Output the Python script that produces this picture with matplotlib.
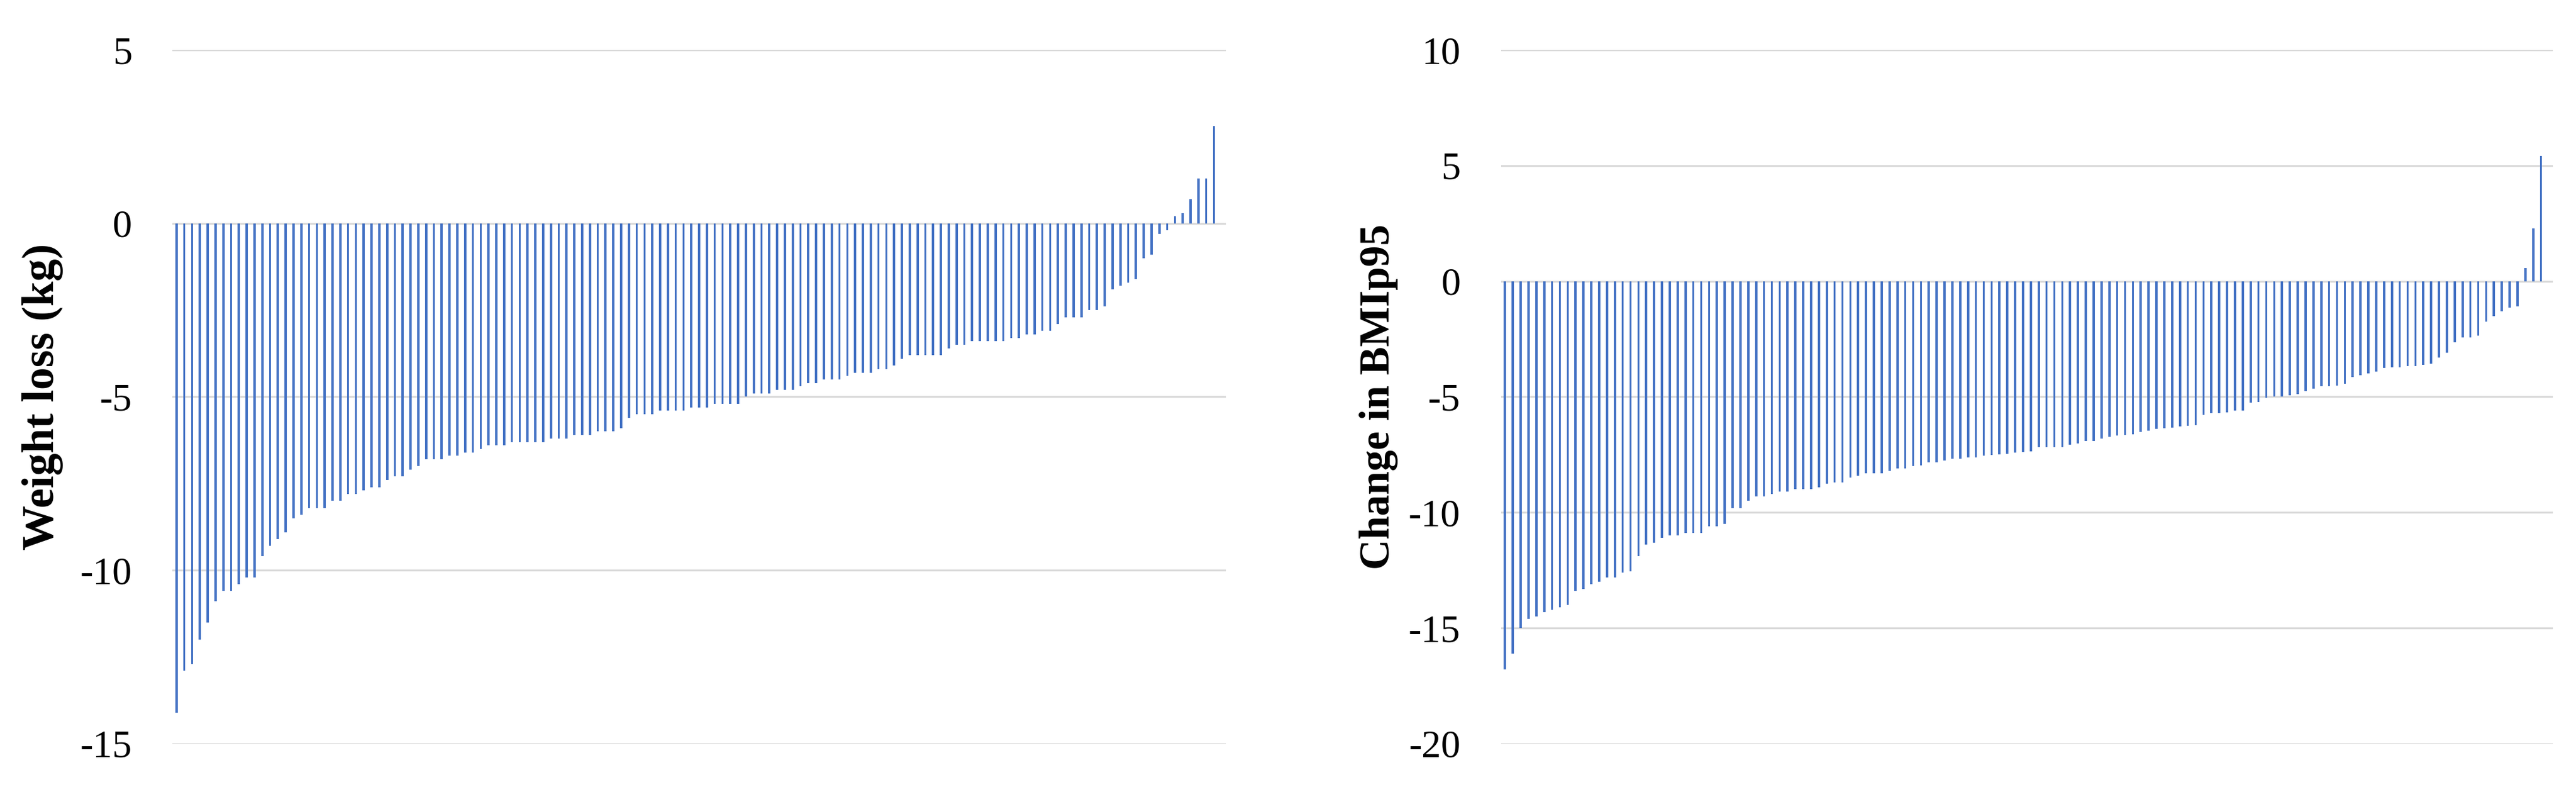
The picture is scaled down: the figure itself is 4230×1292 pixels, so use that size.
import matplotlib
matplotlib.use("Agg")
import matplotlib.pyplot as plt

# weight loss per participant (kg), sorted
weight_loss = [-14.1, -12.9, -12.7, -12.0, -11.5, -10.9, -10.6, -10.6, -10.4, -10.2,
               -10.2, -9.6, -9.3, -9.1, -8.9, -8.5, -8.4, -8.2, -8.2, -8.2,
               -8.0, -8.0, -7.8, -7.8, -7.7, -7.6, -7.6, -7.4, -7.3, -7.3,
               -7.1, -7.0, -6.8, -6.8, -6.8, -6.7, -6.7, -6.6, -6.6, -6.5,
               -6.4, -6.4, -6.4, -6.3, -6.3, -6.3, -6.3, -6.3, -6.2, -6.2,
               -6.2, -6.1, -6.1, -6.1, -6.0, -6.0, -6.0, -5.9, -5.6, -5.5,
               -5.5, -5.5, -5.4, -5.4, -5.4, -5.4, -5.3, -5.3, -5.3, -5.2,
               -5.2, -5.2, -5.2, -5.0, -4.9, -4.9, -4.9, -4.8, -4.8, -4.8,
               -4.7, -4.6, -4.6, -4.5, -4.5, -4.5, -4.4, -4.3, -4.3, -4.3,
               -4.2, -4.2, -4.1, -3.9, -3.8, -3.8, -3.8, -3.8, -3.8, -3.6,
               -3.5, -3.5, -3.4, -3.4, -3.4, -3.4, -3.4, -3.3, -3.3, -3.2,
               -3.2, -3.1, -3.1, -2.9, -2.7, -2.7, -2.7, -2.5, -2.5, -2.4,
               -1.9, -1.8, -1.7, -1.6, -1.0, -0.9, -0.3, -0.2, 0.2, 0.3,
               0.7, 1.3, 1.3, 2.8]

# change in BMIp95 per participant, sorted
bmi_change = [-16.8, -16.1, -15.0, -14.6, -14.5, -14.3, -14.2, -14.1, -14.0, -13.4,
              -13.3, -13.1, -13.0, -12.8, -12.8, -12.6, -12.55, -11.9, -11.4, -11.3,
              -11.1, -11.0, -11.0, -10.9, -10.9, -10.9, -10.6, -10.6, -10.5, -9.8,
              -9.8, -9.5, -9.3, -9.3, -9.2, -9.1, -9.1, -9.0, -9.0, -9.0,
              -8.9, -8.75, -8.7, -8.7, -8.5, -8.4, -8.3, -8.3, -8.3, -8.2,
              -8.1, -8.1, -8.0, -7.96, -7.84, -7.84, -7.74, -7.68, -7.68, -7.63,
              -7.63, -7.55, -7.51, -7.48, -7.46, -7.41, -7.38, -7.35, -7.18, -7.18,
              -7.18, -7.18, -7.08, -7.01, -6.92, -6.92, -6.8, -6.72, -6.67, -6.65,
              -6.63, -6.52, -6.47, -6.38, -6.35, -6.32, -6.29, -6.25, -6.23, -5.77,
              -5.7, -5.7, -5.68, -5.6, -5.59, -5.25, -5.23, -5.03, -5.0, -4.98,
              -4.94, -4.87, -4.76, -4.65, -4.53, -4.53, -4.52, -4.43, -4.15, -4.06,
              -3.98, -3.9, -3.76, -3.73, -3.73, -3.68, -3.68, -3.61, -3.56, -3.31,
              -3.09, -2.64, -2.42, -2.42, -2.34, -1.76, -1.51, -1.3, -1.14, -1.09,
              0.57, 2.29, 5.41]

left_ticks = [-15, -10, -5, 0, 5]
right_ticks = [-20, -15, -10, -5, 0, 5, 10]

bar_color = "#4472C4"
grid_color = "#D9D9D9"
font = "Liberation Serif"

fig = plt.figure(figsize=(42.3, 12.92), dpi=100)

ax1 = fig.add_axes([0.0670, 0.0550, 0.4088, 0.8815])
ax2 = fig.add_axes([0.5827, 0.0550, 0.4083, 0.8815])


def style(ax, vals, ticks, label, lx, lsize):
    n = len(vals)
    ax.bar(range(n), vals, width=0.29, color=bar_color, zorder=3)
    ax.set_xlim(-0.5, n + 0.5)
    ax.set_ylim(ticks[0], ticks[-1])
    ax.set_yticks(ticks)
    ax.set_yticklabels([str(t) for t in ticks], fontname=font, fontsize=46)
    ax.set_xticks([])
    for t in ticks:
        ax.axhline(t, color=grid_color, lw=2.2, zorder=1)
    for s in ax.spines.values():
        s.set_visible(False)
    ax.tick_params(axis="y", length=0, pad=48)
    ax.set_ylabel(label, fontname=font, fontsize=lsize, fontweight="bold")
    ax.yaxis.set_label_coords(lx, 0.5)


style(ax1, weight_loss, left_ticks, "Weight loss (kg)", -0.104, 53)
style(ax2, bmi_change, right_ticks, "Change in BMIp95", -0.098, 50)

fig.savefig("out.png", dpi=100, facecolor="white")
